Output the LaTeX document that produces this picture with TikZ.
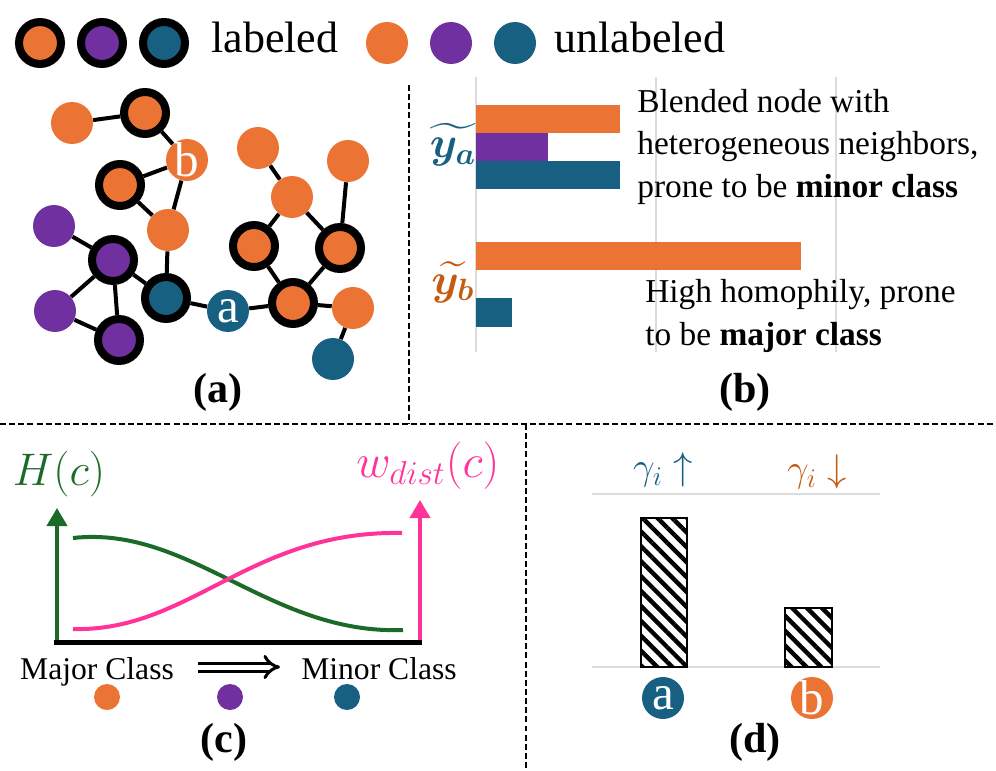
\RequirePackage{fix-cm}
\documentclass[tikz,border=0pt]{standalone}
\usepackage{amsmath}
\usepackage{bm}
\usepackage{fontspec}
\setmainfont{Liberation Serif}
\usetikzlibrary{arrows.meta,patterns.meta,backgrounds}
\definecolor{corange}{RGB}{235,116,53}
\definecolor{cpurple}{RGB}{112,48,160}
\definecolor{cteal}{RGB}{24,96,130}
\definecolor{cbrown}{RGB}{197,90,17}
\definecolor{cgreen}{RGB}{28,106,40}
\definecolor{cpink}{RGB}{255,51,153}
\definecolor{cgrid}{RGB}{220,220,220}

\begin{document}
\begin{tikzpicture}
[x=0.02cm,y=-0.02cm,%%%%%%%%%%%%%%%%%%%%%%%%%%%%%%
lab/.style={circle,draw=black,line width=0.16cm,minimum size=0.84cm,inner sep=0pt},
unl/.style={circle,minimum size=0.84cm,inner sep=0pt},
lettr/.style={text=white,inner sep=0pt,font=\fontsize{18}{18}\selectfont,scale=1.55},
dotnode/.style={circle,minimum size=0.52cm,inner sep=0pt},
lnk/.style={line width=0.08cm},
sepline/.style={line width=0.04cm,dash pattern=on 3.4pt off 1.8pt},
gridln/.style={cgrid,line width=0.05cm},
txt/.style={inner sep=0pt,align=left,font=\fontsize{19}{24}\selectfont},
big/.style={inner sep=0pt,font=\fontsize{18}{18}\selectfont,scale=1.39},
captn/.style={inner sep=0pt,font=\fontsize{18}{18}\selectfont\bfseries,scale=1.33},
hatch/.style={line width=0.05cm,pattern={Lines[angle=-45,distance=6pt,line width=2.5pt]}},
]%%%%%%%%%%%%%%%%%%%%%%%%%%%%%%
\useasboundingbox (0,0) rectangle (996,770);

% legend
\foreach \c [count=\i] in {corange,cpurple,cteal}{
\node[lab,fill=\c] (legL\i) at (40+62*\i-62,43){};
\node[unl,fill=\c] (legU\i) at (387+64*\i-64,43){};
}
\node[big,anchor=base west] (legl) at (211,53){labeled};
\node[big,anchor=base west] (legu) at (554,53){unlabeled};

% separators
\draw[sepline] (409,85) -- (409,424);
\draw[sepline] (0,424) -- (996,424);
\draw[sepline] (526,424) -- (526,770);

% (a) graph
\node[unl,fill=corange] (u1) at (72,123){};
\node[lab,fill=corange] (l1) at (145,113){};
\node[unl,fill=corange,label={[lettr]center:b}] (b) at (187,160){};
\node[lab,fill=corange] (l2) at (120,185){};
\node[unl,fill=corange] (u2) at (168,230){};
\node[unl,fill=cpurple] (p1) at (54,226){};
\node[lab,fill=cpurple] (l3) at (113,260){};
\node[unl,fill=cpurple] (p2) at (55,311){};
\node[lab,fill=cpurple] (l4) at (119,340){};
\node[lab,fill=cteal] (l5) at (166,298){};
\node[unl,fill=cteal,label={[lettr]center:a}] (a) at (228,311){};
\node[lab,fill=corange] (l6) at (293,303){};
\node[unl,fill=corange] (u3) at (353,308){};
\node[unl,fill=cteal] (t1) at (333,359){};
\node[lab,fill=corange] (l7) at (254,246){};
\node[lab,fill=corange] (l8) at (340,248){};
\node[unl,fill=corange] (u4) at (292,197){};
\node[unl,fill=corange] (u5) at (258,148){};
\node[unl,fill=corange] (u6) at (348,161){};
\begin{scope}[on background layer]
\foreach \s/\t in {u1/l1,l1/b,b/l2,b/u2,l2/u2,u2/l5,p1/l3,l3/l5,l3/p2,l3/l4,p2/l4,
l5/a,a/l6,l6/l7,l6/l8,l6/u3,u3/t1,l7/u4,u4/l8,u4/u5,l8/u6}
\draw[lnk] (\s) -- (\t);
\end{scope}
\node[captn] (capa) at (218,392){(a)};

% (b) bars
\foreach \x in {476,656,836}
\draw[gridln] (\x,77) -- (\x,352);
\fill[corange] (476,105) rectangle (620,133);
\fill[cpurple] (476,133) rectangle (548,161);
\fill[cteal] (476,161) rectangle (620,189);
\fill[corange] (476,242) rectangle (801,270);
\fill[cteal] (476,298) rectangle (512,327);
\node[inner sep=0pt,text=cteal,font=\fontsize{20}{20}\selectfont,scale=1.25] (ya) at (453,145){$\bm{\widetilde{y_a}}$};
\node[inner sep=0pt,text=cbrown,font=\fontsize{20}{20}\selectfont,scale=1.25] (yb) at (453,282){$\bm{\widetilde{y_b}}$};
\node[txt,anchor=base west] (blend) at (637,197){Blended node with\\heterogeneous neighbors,\\prone to be \textbf{minor class}};
\node[txt,anchor=base west] (homo) at (645,345){High homophily, prone\\to be \textbf{major class}};
\node[captn] (capb) at (745,392){(b)};

% (c) curves
\coordinate (orig) at (54,642);
\coordinate (hend) at (422,642);
\coordinate (gtop) at (57,508);
\coordinate (gbot) at (57,642);
\coordinate (ptop) at (420,500);
\coordinate (pbot) at (420,642);
\draw[cgreen,line width=0.08cm,-{Triangle[width=0.4cm,length=0.36cm]}] (gbot) -- (gtop);
\draw[cpink,line width=0.08cm,-{Triangle[width=0.4cm,length=0.36cm]}] (pbot) -- (ptop);
\draw[line width=0.1cm] (orig) -- (hend);
\draw[cgreen,line width=0.08cm] (73,538) .. controls (190,525) and (270,635) .. (403,630);
\draw[cpink,line width=0.08cm] (73,629) .. controls (190,632) and (250,530) .. (402,533);
\node[inner sep=0pt,text=cgreen,font=\fontsize{20}{20}\selectfont,scale=1.3] (hc) at (59,474){$H(c)$};
\node[inner sep=0pt,text=cpink,font=\fontsize{20}{20}\selectfont,scale=1.35] (wc) at (428,466){$w_{dist}(c)$};
\node[inner sep=0pt,font=\fontsize{18}{18}\selectfont] (major) at (97,672){Major Class};
\node[inner sep=0pt,font=\fontsize{18}{18}\selectfont] (minor) at (379,669){Minor Class};
\coordinate (arrS) at (198,667);
\coordinate (arrE) at (280,667);
\draw[double,double distance=0.1cm,line width=0.06cm,-{Implies}] (arrS) -- (arrE);
\node[dotnode,fill=corange] (dor) at (107,697){};
\node[dotnode,fill=cpurple] (dpu) at (230,697){};
\node[dotnode,fill=cteal] (dte) at (347,697){};
\node[captn] (capc) at (224,742){(c)};

% (d) bars
\draw[gridln] (592,494) -- (880,494);
\draw[gridln] (592,667) -- (880,667);
\draw[hatch] (641,518) rectangle (687,667);
\draw[hatch] (785,608) rectangle (832,667);
\node[inner sep=0pt,text=cteal,font=\fontsize{20}{20}\selectfont,scale=1.1] (gu) at (663,470){$\gamma_i\uparrow$};
\node[inner sep=0pt,text=cbrown,font=\fontsize{20}{20}\selectfont,scale=1.1] (gd) at (817,472){$\gamma_i\downarrow$};
\node[unl,fill=cteal,label={[lettr]center:a}] (da) at (663,698){};
\node[unl,fill=corange,label={[lettr]center:b}] (db) at (812,698){};
\node[captn] (capd) at (755,742){(d)};
\end{tikzpicture}
\end{document}
